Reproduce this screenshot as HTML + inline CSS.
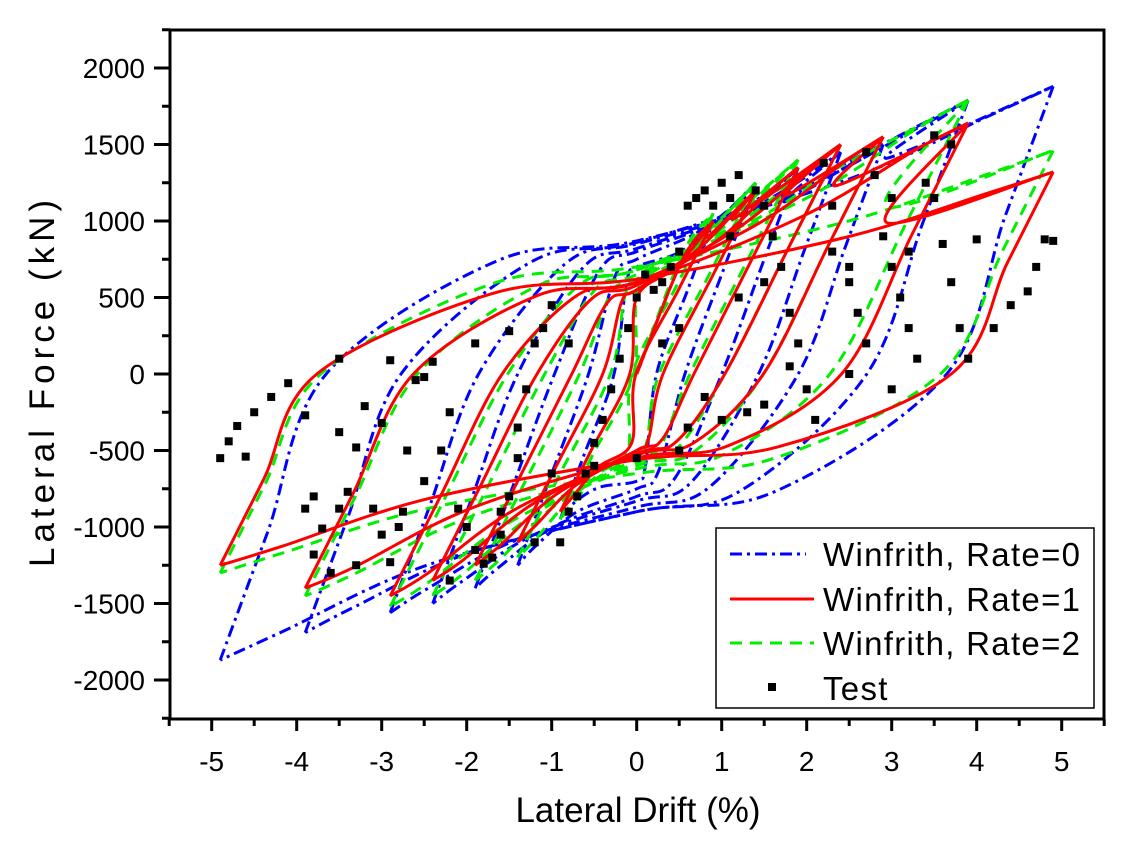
<!DOCTYPE html>
<html><head><meta charset="utf-8"><style>
body{margin:0;background:#fff}
svg{display:block;font-family:"Liberation Sans",Arial,sans-serif}
</style></head><body>
<svg id="chart" width="1131" height="851">
<g id="marks"></g>
<g id="axes"></g>
<g>
<rect x="716" y="528" width="378" height="180" fill="#fff" stroke="#000" stroke-width="1.5"/>
<line x1="730" y1="554" x2="806" y2="554" stroke="#0000ff" stroke-width="3" stroke-dasharray="12,5,3,5"/>
<text x="823" y="566" font-size="33" letter-spacing="1.3">Winfrith, Rate=0</text>
<line x1="730" y1="599" x2="814" y2="599" stroke="#ff0000" stroke-width="3"/>
<text x="823" y="611" font-size="33" letter-spacing="1.3">Winfrith, Rate=1</text>
<line x1="730" y1="643" x2="814" y2="643" stroke="#00ee00" stroke-width="3" stroke-dasharray="12,8"/>
<text x="823" y="655" font-size="33" letter-spacing="1.3">Winfrith, Rate=2</text>
<rect x="768" y="683" width="8" height="8" fill="#000"/>
<text x="823" y="700" font-size="33" letter-spacing="1.3">Test</text>
</g>
<text x="638" y="822" font-size="35" text-anchor="middle">Lateral Drift (%)</text>
<text x="0" y="0" font-size="35" letter-spacing="5" text-anchor="middle" transform="translate(54,381) rotate(-90)">Lateral Force (kN)</text>
</svg>
<script>
// cycles: [xPos, fPos, xNeg, fNeg, fZeroUp, fZeroDown]
const rate0Cycles=[[0.9,1000,-0.9,-950,700,-700],[1.4,1250,-1.4,-1250,750,-750],[1.9,1350,-1.9,-1400,800,-800],[2.4,1450,-2.4,-1500,820,-830],[2.9,1500,-2.9,-1560,850,-870],[3.9,1790,-3.9,-1690,860,-900],[4.9,1880,-4.9,-1870,870,-900]];
const rate1Cycles=[[0.9,1000,-0.9,-900,500,-450],[1.4,1200,-1.4,-1100,550,-500],[1.9,1350,-1.9,-1250,550,-500],[2.4,1500,-2.4,-1350,580,-520],[2.9,1550,-2.9,-1450,600,-530],[3.9,1640,-3.9,-1400,600,-550],[4.9,1320,-4.9,-1250,620,-560]];
const rate2Cycles=[[0.9,1050,-0.9,-950,550,-500],[1.4,1250,-1.4,-1200,600,-520],[1.9,1400,-1.9,-1350,620,-550],[2.4,1500,-2.4,-1450,650,-580],[2.9,1550,-2.9,-1520,680,-600],[3.9,1790,-3.9,-1450,680,-620],[4.9,1460,-4.9,-1300,700,-650]];
const testX=[-4.9,-4.8,-4.7,-4.6,-4.5,-4.3,-4.1,-3.9,-3.9,-3.8,-3.8,-3.7,-3.6,-3.5,-3.5,-3.4,-3.3,-3.3,-3.2,-3.1,-3.0,-2.9,-2.8,-2.75,-2.7,-2.6,-2.5,-2.4,-2.3,-2.2,-2.1,-2.0,-1.9,-1.8,-1.7,-1.6,-1.5,-1.4,-1.4,-1.3,-1.2,-1.1,-1.0,-0.9,-0.8,-0.7,-0.6,-0.5,-0.4,-0.3,-0.2,-0.1,0,0.1,0.2,0.3,0.4,0.5,0.6,0.7,0.8,0.9,1.0,1.1,1.2,1.4,1.5,1.6,1.7,1.8,1.9,2.0,2.1,2.2,2.3,2.5,2.6,2.7,2.8,2.9,3.0,3.1,3.2,3.3,3.4,3.5,3.6,3.7,3.8,3.9,4.0,4.2,4.4,4.6,4.7,4.8,4.9,3.5,3.7,1.5,1.0,0.5,0,-0.5,-1,2.5,3,1.8,-3.5,-2.9,-1.9,-1.5,0.8,1.3,2.5,3.2,-0.8,-2.5,-3.0,0.3,0.5,1.2,1.5,2.3,2.7,3.0,-2.2,-1.2,-1.6,0.6,1.1];
const testF=[-550,-440,-340,-540,-250,-150,-60,-270,-880,-800,-1180,-1010,-1300,-880,-380,-770,-1250,-480,-210,-880,-320,-1230,-1000,-900,-500,-40,-20,80,-500,-250,-880,-1000,-1150,-1240,-1200,-1050,-800,-550,-350,-100,200,300,450,-1100,-900,-800,-650,-450,-300,-100,100,300,500,650,550,600,700,800,1100,1150,1200,1100,1250,1150,1300,1200,1100,900,700,400,200,-100,-300,1380,1100,700,400,200,1300,900,700,500,300,100,1250,1150,850,600,300,100,880,300,450,540,700,880,870,1560,1500,-200,-300,-500,-550,-600,-650,0,-100,50,100,90,200,280,-150,-250,600,800,200,-700,-1050,200,300,500,600,800,1450,1150,-1350,-1100,-900,-350,900];
const xTicks=[-5,-4,-3,-2,-1,0,1,2,3,4,5];
const yTicks=[-2000,-1500,-1000,-500,0,500,1000,1500,2000];

const X=v=>636.7+v*85, Y=v=>374-v*0.153;
const NS='http://www.w3.org/2000/svg';
const marks=document.getElementById('marks'), axes=document.getElementById('axes');
function el(tag,attrs,parent){const e=document.createElementNS(NS,tag);for(const k in attrs)e.setAttribute(k,attrs[k]);parent.appendChild(e);return e;}
function smooth(pts){let d='M'+X(pts[0][0]).toFixed(1)+','+Y(pts[0][1]).toFixed(1);
 for(let i=0;i<pts.length-1;i++){const p0=pts[Math.max(0,i-1)],p1=pts[i],p2=pts[i+1],p3=pts[Math.min(pts.length-1,i+2)];
  const c1=[X(p1[0])+(X(p2[0])-X(p0[0]))/6,Y(p1[1])+(Y(p2[1])-Y(p0[1]))/6];
  const c2=[X(p2[0])-(X(p3[0])-X(p1[0]))/6,Y(p2[1])-(Y(p3[1])-Y(p1[1]))/6];
  d+=' C'+c1.map(v=>v.toFixed(1))+' '+c2.map(v=>v.toFixed(1))+' '+X(p2[0]).toFixed(1)+','+Y(p2[1]).toFixed(1);}
 return d;}
function branches(c,K){const [xp,fp,xn,fn,fu,fd]=c;
 const a=xp-fp/K, b=xn+(-fn)/K;
 const down=[[xp,fp],[xp-0.45*fp/K,0.55*fp],[a,0]]; if(a>0.15)down.push([a*0.45,fd*0.85]);
 down.push([Math.min(0,a-0.05),fd]);down.push([xn*0.5,(fd+fn)*0.5*0.9]);down.push([xn*0.85,fn*0.9]);down.push([xn,fn]);
 const up=[[xn,fn],[xn+0.45*(-fn)/K,0.55*fn],[b,0]]; if(b<-0.15)up.push([b*0.45,fu*0.85]);
 up.push([Math.max(0,b+0.05),fu]);up.push([xp*0.5,(fu+fp)*0.5*0.92]);up.push([xp*0.85,fp*0.9]);up.push([xp,fp]);
 return [down,up];}
function drawSeries(cycles,K,stroke,dash,name){const g=el('g',{},marks);
 
 
 let prev=[0,0];
 cycles.forEach((c,i)=>{
  const first=el('path',{d:smooth([prev,[c[0]*0.6,c[1]*0.75],[c[0],c[1]]]),fill:'none',stroke:stroke,'stroke-width':3,'stroke-dasharray':dash},g);
  
  
  const [dn,up]=branches(c,K);
  const p1=el('path',{d:smooth(dn),fill:'none',stroke:stroke,'stroke-width':3,'stroke-dasharray':dash},g);
  
  
  const p2=el('path',{d:smooth(up),fill:'none',stroke:stroke,'stroke-width':3,'stroke-dasharray':dash},g);
  
  
  prev=[c[0],c[1]];});}
drawSeries(rate0Cycles,1500,'#0000ff','12,5,3,5','rate0-series');
drawSeries(rate2Cycles,1100,'#00ee00','12,8','rate2-series');
drawSeries(rate1Cycles,1100,'#ff0000','none','rate1-series');
testX.forEach((x,i)=>{const r=el('rect',{x:X(x)-4,y:Y(testF[i])-4,width:8,height:8,fill:'#000'},marks);
 
 });
// frame
const fr=el('rect',{x:170,y:30,width:934,height:689,fill:'none',stroke:'#000','stroke-width':3},axes);


for(let v=-5.5;v<=5.5001;v+=0.5){const major=Math.abs(v-Math.round(v))<1e-6;
 const t=el('line',{x1:X(v),x2:X(v),y1:719,y2:major?731:726,stroke:'#000','stroke-width':3},axes);
 
 }
xTicks.forEach(v=>{const t=el('text',{x:X(v),y:771,'font-size':28,'text-anchor':'middle'},axes);t.textContent=v;
 
 });
for(let v=-2250;v<=2250;v+=250){const major=v%500===0;
 const t=el('line',{x1:major?154:162,x2:170,y1:Y(v),y2:Y(v),stroke:'#000','stroke-width':3},axes);
 
 }
yTicks.forEach(v=>{const t=el('text',{x:145,y:Y(v)+10,'font-size':28,'text-anchor':'end'},axes);t.textContent=v;
 
 });
</script>
</body></html>
